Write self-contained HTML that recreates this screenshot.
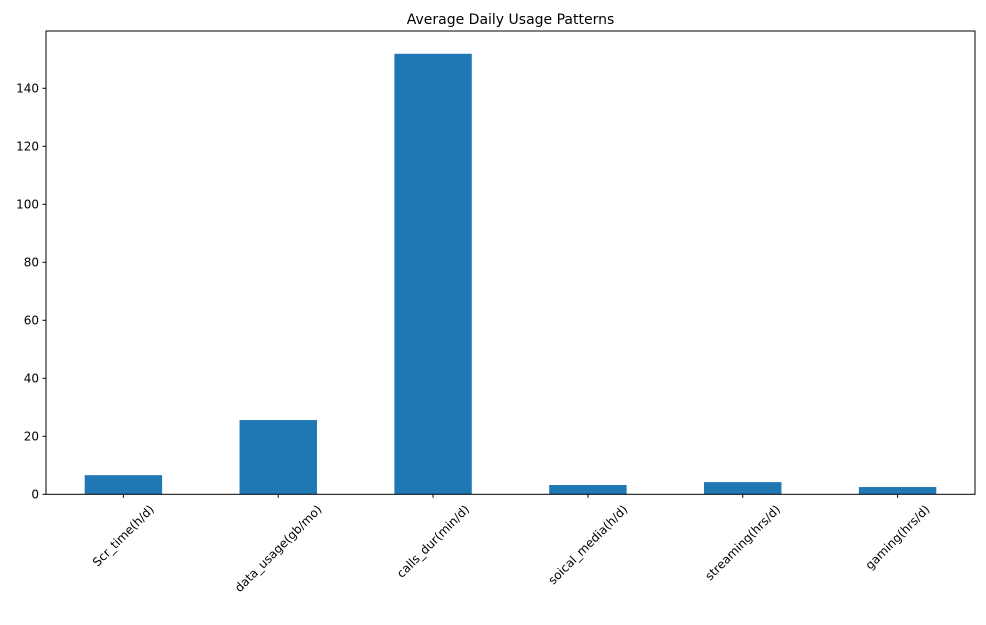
<!DOCTYPE html>
<html><head><meta charset="utf-8"><style>
body{margin:0;background:#fff;font-family:"Liberation Sans","DejaVu Sans",sans-serif;}
svg text{font-family:"DejaVu Sans","Liberation Sans",sans-serif;}
</style></head><body>
<svg id="chart" width="986" height="620">
<text x="510.5" y="24" font-size="14" text-anchor="middle">Average Daily Usage Patterns</text>
<g id="bars"></g><g id="yaxis"></g><g id="xaxis"></g>
<rect x="46" y="31" width="929" height="463.3" fill="none" stroke="#000" stroke-width="1"/>
</svg>
<script>
const categories=["Scr_time(h/d)","data_usage(gb/mo)","calls_dur(min/d)","soical_media(h/d)","streaming(hrs/d)","gaming(hrs/d)"];
const values=[6.6,25.6,151.9,3.2,4.2,2.5];
const yTicks=[0,20,40,60,80,100,120,140];
const L=46,R=975,B=494.3,pxPer=2.9;
const ns="http://www.w3.org/2000/svg";
const y=v=>B-v*pxPer;
const step=(R-L)/categories.length;
const x=i=>L+step*(i+0.5);
function mk(t,a,p){const e=document.createElementNS(ns,t);for(const k in a)e.setAttribute(k,a[k]);p.appendChild(e);return e;}
const gb=document.getElementById('bars'),gy=document.getElementById('yaxis'),gx=document.getElementById('xaxis');
values.forEach((v,i)=>{
 const r=mk('rect',{x:x(i)-step/4,y:y(v),width:step/2,height:B-y(v),fill:'#1f77b4'},gb);
 
 
});
yTicks.forEach(t=>{
 const l=mk('line',{x1:L-3.5,x2:L,y1:y(t),y2:y(t),stroke:'#000'},gy);
 
 
 const tx=mk('text',{x:L-7,y:y(t)+4,'font-size':'12','text-anchor':'end'},gy);
 tx.textContent=t;
 
 
});
categories.forEach((c,i)=>{
 const l=mk('line',{x1:x(i),x2:x(i),y1:B,y2:B+3.5,stroke:'#000'},gx);
 
 
 const tx=mk('text',{x:0,y:4,'font-size':'12','text-anchor':'middle'},gx);
 tx.textContent=c;
 
 
 const w=tx.getComputedTextLength();
 const half=(w+14)*Math.SQRT1_2/2;
 tx.setAttribute('transform',`translate(${x(i)},${B+8+half}) rotate(-45)`);
});
</script>
</body></html>
